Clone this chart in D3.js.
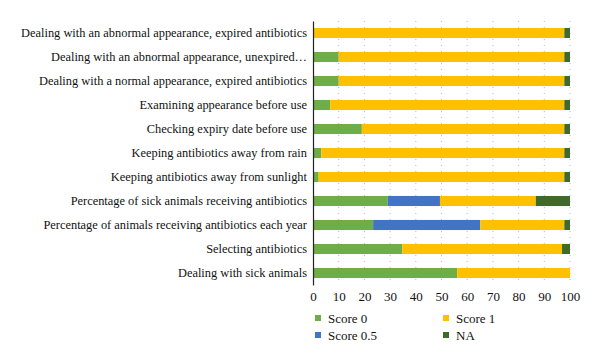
<!DOCTYPE html>
<html><head><meta charset="utf-8">
<script src="https://cdn.jsdelivr.net/npm/d3@7"></script>
<style>body{margin:0;background:#fff}svg{display:block}</style>
</head><body><div id="chart"></div>
<script>
const categories = [
  "Dealing with an abnormal appearance, expired antibiotics",
  "Dealing with an abnormal appearance, unexpired…",
  "Dealing with a normal appearance, expired antibiotics",
  "Examining appearance before use",
  "Checking expiry date before use",
  "Keeping antibiotics away from rain",
  "Keeping antibiotics away from sunlight",
  "Percentage of sick animals receiving antibiotics",
  "Percentage of animals receiving antibiotics each year",
  "Selecting antibiotics",
  "Dealing with sick animals"
];
const seriesNames = ["Score 0", "Score 0.5", "Score 1", "NA"];
const score0  = [0, 10, 10, 6.7, 19, 3.2, 2.2, 29.1, 23.4, 34.7, 56.1];
const score05 = [0, 0, 0, 0, 0, 0, 0, 20.3, 41.7, 0, 0];
const score1  = [97.8, 87.8, 87.8, 91.1, 78.8, 94.6, 95.6, 37.3, 32.7, 62.2, 43.9];
const na      = [2.2, 2.2, 2.2, 2.2, 2.2, 2.2, 2.2, 13.3, 2.2, 3.1, 0];
const xTicks = [0,10,20,30,40,50,60,70,80,90,100];

const colors = ["#70AD47", "#4472C4", "#FFC000", "#3F6A2C"];
const W = 600, H = 360;
const svg = d3.select("#chart").append("svg").attr("width", W).attr("height", H);
const font = "'Liberation Serif', 'DejaVu Serif', serif";

const x = d3.scaleLinear().domain([0, 100]).range([313, 570]);
const y = d3.scaleBand().domain(categories).range([21, 285]).paddingInner(0.58).paddingOuter(0.29);

// gridlines
svg.append("g").selectAll("line").data(xTicks.slice(1)).join("line")
  .attr("x1", d => x(d)).attr("x2", d => x(d))
  .attr("y1", 21).attr("y2", 285)
  .attr("stroke", "#bbb").attr("stroke-width", 1).attr("stroke-dasharray", "1,5");

const rows = categories.map((c, i) => ({cat: c, "Score 0": score0[i], "Score 0.5": score05[i], "Score 1": score1[i], "NA": na[i]}));
const stacked = d3.stack().keys(seriesNames)(rows);
svg.append("g").selectAll("g").data(stacked).join("g")
  .attr("fill", (d, i) => colors[i])
  .selectAll("rect").data(d => d).join("rect")
  .attr("x", d => x(d[0])).attr("width", d => Math.max(0, x(d[1]) - x(d[0])))
  .attr("y", d => y(d.data.cat)).attr("height", y.bandwidth());

// y axis
const ya = svg.append("g").attr("transform", "translate(313,0)")
  .call(d3.axisLeft(y).tickSize(0).tickPadding(6));
ya.select(".domain").attr("stroke", "#222").attr("stroke-width", 1.2);
ya.selectAll("text").attr("font-family", font).attr("font-size", 12.4).attr("fill", "#111");

// x axis
const xa = svg.append("g").attr("transform", "translate(0,285)")
  .call(d3.axisBottom(x).tickValues(xTicks).tickSize(0).tickPadding(7));
xa.select(".domain").remove();
xa.selectAll("text").attr("font-family", font).attr("font-size", 13).attr("fill", "#111");

// legend
const legPos = [[315, 318], [315, 335], [443, 318], [443, 335]];
const leg = svg.append("g").selectAll("g").data(seriesNames).join("g")
  .attr("transform", (d, i) => `translate(${legPos[i][0]},${legPos[i][1]})`);
leg.append("rect").attr("x", 0).attr("y", -3).attr("width", 6).attr("height", 6).attr("fill", (d, i) => colors[i]);
leg.append("text").attr("x", 13).attr("y", 4.5).text(d => d)
  .attr("font-family", font).attr("font-size", 13).attr("fill", "#111");
</script></body></html>
